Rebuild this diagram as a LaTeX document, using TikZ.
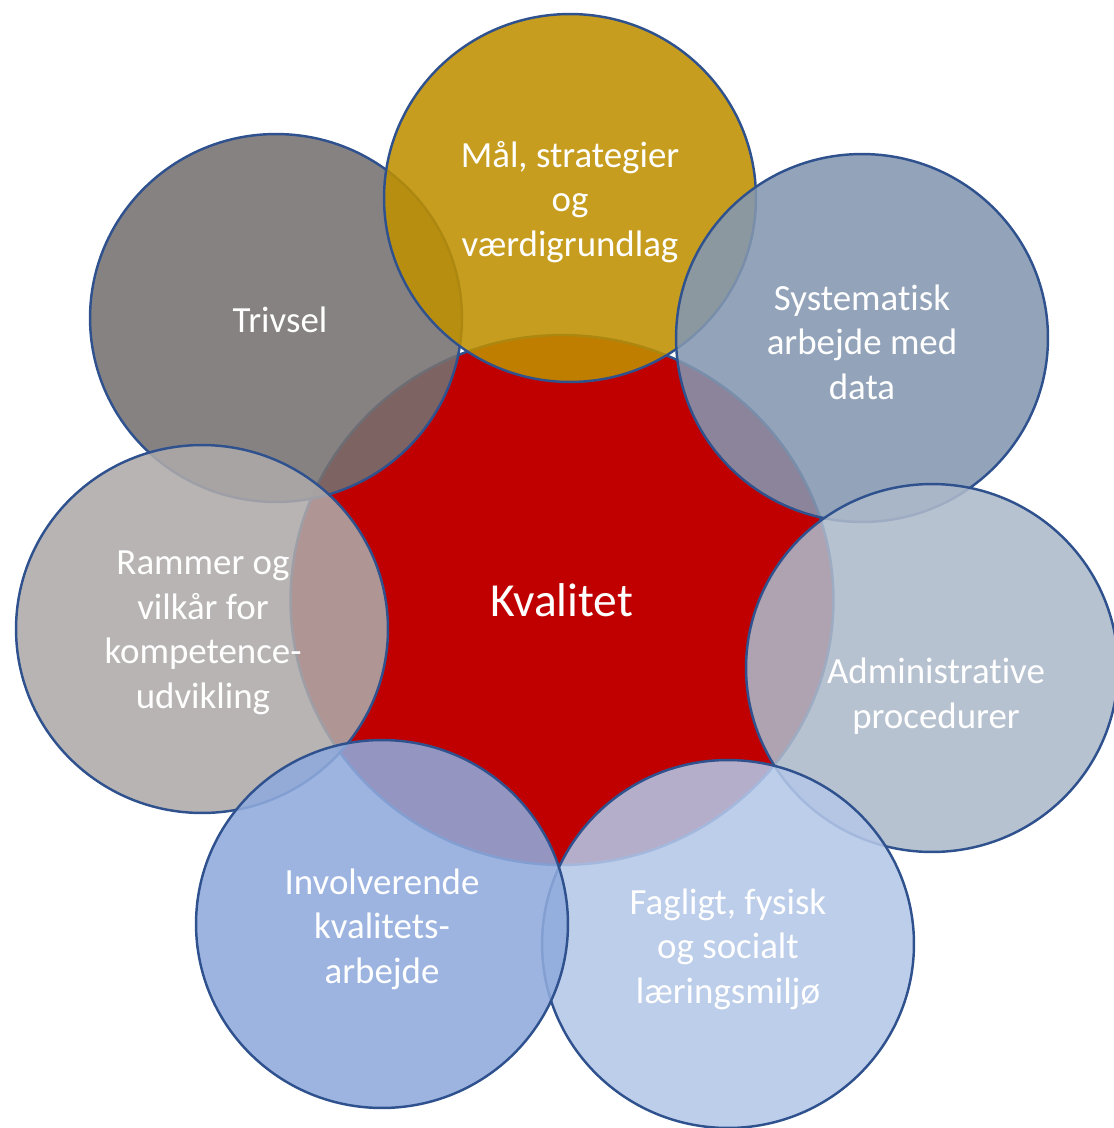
\documentclass[tikz,border=0pt]{standalone}
\usepackage{fontspec}
\setmainfont{Carlito}[Ligatures=NoCommon]
\usetikzlibrary{shapes.geometric}
\definecolor{rimblue}{HTML}{2F528F}
\definecolor{kvalred}{HTML}{C00000}
\definecolor{goldfill}{HTML}{BF9000}
\definecolor{trivgrey}{HTML}{767171}
\definecolor{systblue}{HTML}{8497B0}
\definecolor{admblue}{HTML}{ADB9CA}
\definecolor{fagblue}{HTML}{B4C7E7}
\definecolor{invblue}{HTML}{8FAADC}
\definecolor{ramgrey}{HTML}{AEAAAA}
\begin{document}
\begin{tikzpicture}[
			x=0.02cm, y=-0.02cm,
			every node/.style={font=\fontsize{21}{25.4}\selectfont},
			core/.style={ellipse, draw=rimblue, line width=1.4pt, fill=kvalred, inner sep=0pt, minimum width=10.86cm, minimum height=10.6cm},
			petal/.style={ellipse, draw=rimblue, line width=1.4pt, fill opacity=0.88, inner sep=0pt, minimum width=7.44cm, minimum height=7.36cm},
			lbl/.style={text=white, align=center},
			]
			
			\useasboundingbox (0,0) rectangle (1114,1128);
			
			\node[core] (kval) at (562,600) {};
			
			\node[petal, fill=trivgrey] (triv) at (276,318) {};
			\node[petal, fill=goldfill] (maal) at (570,198) {};
			\node[petal, fill=systblue] (syst) at (862,338) {};
			\node[petal, fill=admblue] (adm) at (932,668) {};
			\node[petal, fill=fagblue] (fag) at (728,944) {};
			\node[petal, fill=ramgrey] (ram) at (202,629) {};
			\node[petal, fill=invblue] (inv) at (382,924) {};
			
			\node[lbl, font=\fontsize{27}{32}\selectfont] (kvaltxt) at (562,600) {Kvalitet};
			\node[lbl] (trivtxt) at (280,320) {Trivsel};
			\node[lbl] (maaltxt) at (570,202) {Mål, strategier\\og\\værdigrundlag};
			\node[lbl] (systtxt) at (862,342) {Systematisk\\arbejde med\\data};
			\node[lbl] (admtxt) at (936,696) {Administrative\\procedurer};
			\node[lbl] (fagtxt) at (728,949) {Fagligt, fysisk\\og socialt\\læringsmiljø};
			\node[lbl] (invtxt) at (382,929) {Involverende\\kvalitets-\\arbejde};
			\node[lbl] (ramtxt) at (203,633) {Rammer og\\vilkår for\\kompetence-\\udvikling};
			
		\end{tikzpicture}
\end{document}
